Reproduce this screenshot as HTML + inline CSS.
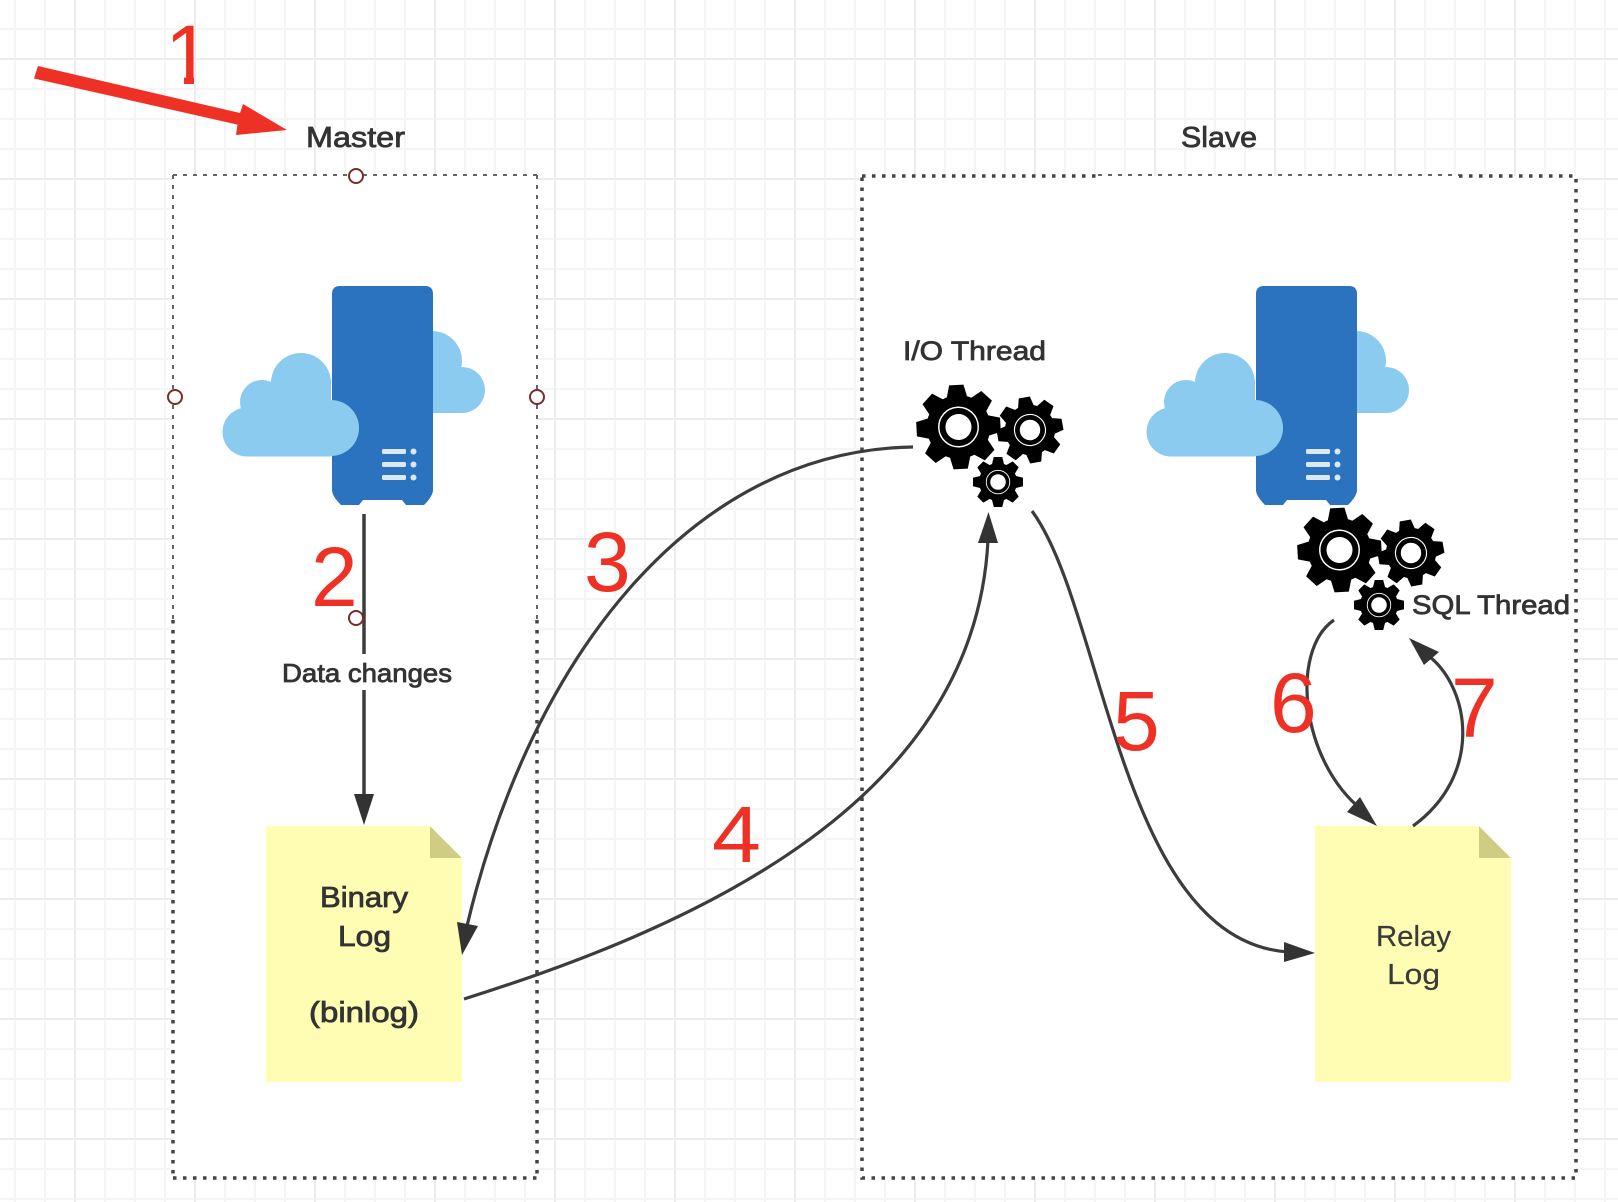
<!DOCTYPE html>
<html>
<head>
<meta charset="utf-8">
<style>
html,body{margin:0;padding:0;background:#fff;}
body{width:1618px;height:1202px;overflow:hidden;position:relative;
background-image:
linear-gradient(#ececec 2px,transparent 2px),
linear-gradient(90deg,#ececec 2px,transparent 2px),
linear-gradient(#f5f5f5 2px,transparent 2px),
linear-gradient(90deg,#f5f5f5 2px,transparent 2px);
background-size:120px 120px,120px 120px,30px 30px,30px 30px;
background-position:0 58px,74px 0,0 28px,14px 0;}
svg{position:absolute;left:0;top:0;}
text{font-family:"Liberation Sans",sans-serif;}
.lb{fill:#333;stroke:#333;stroke-width:.8px;}
.rl{fill:#3a3a3a;stroke:#3a3a3a;stroke-width:.2px;}
.n{fill:#ee3124;font-size:84px;}
.c{fill:none;stroke:#3c3c3c;stroke-width:3.2;}
.hd{fill:#333;}
.thin{fill:none;stroke:#666;stroke-width:2;stroke-dasharray:4 6;}
.thick{fill:none;stroke:#444;stroke-width:3.5;stroke-dasharray:3.5 6.5;}
.h{fill:#fff;stroke:#7a2b2b;stroke-width:2;}
</style>
</head>
<body>
<svg width="1618" height="1202" viewBox="0 0 1618 1202" xmlns="http://www.w3.org/2000/svg">
<defs>
<clipPath id="one">
<rect x="150" y="15" width="60" height="61"/>
<rect x="184" y="70" width="10" height="15"/>
</clipPath>
<g id="gear">
<circle r="0.76" fill="#000"/>
<g fill="#000">
<polygon points="-0.17,-1 0.17,-1 0.25,-0.68 -0.25,-0.68"/>
<polygon points="-0.17,-1 0.17,-1 0.25,-0.68 -0.25,-0.68" transform="rotate(45)"/>
<polygon points="-0.17,-1 0.17,-1 0.25,-0.68 -0.25,-0.68" transform="rotate(90)"/>
<polygon points="-0.17,-1 0.17,-1 0.25,-0.68 -0.25,-0.68" transform="rotate(135)"/>
<polygon points="-0.17,-1 0.17,-1 0.25,-0.68 -0.25,-0.68" transform="rotate(180)"/>
<polygon points="-0.17,-1 0.17,-1 0.25,-0.68 -0.25,-0.68" transform="rotate(225)"/>
<polygon points="-0.17,-1 0.17,-1 0.25,-0.68 -0.25,-0.68" transform="rotate(270)"/>
<polygon points="-0.17,-1 0.17,-1 0.25,-0.68 -0.25,-0.68" transform="rotate(315)"/>
</g>
<circle r="0.47" fill="none" stroke="#fff" stroke-width="0.035"/>
<circle r="0.31" fill="#fff"/>
</g>
<g id="gears">
<use href="#gear" transform="translate(958.5 427) rotate(-3) scale(42)"/>
<use href="#gear" transform="translate(1030 430) rotate(-10) scale(33)"/>
<use href="#gear" transform="translate(998 482) scale(25)"/>
</g>
<g id="server">
<g fill="#8bcbef">
<circle cx="432" cy="361" r="30"/>
<circle cx="462" cy="390" r="23"/>
<rect x="425" y="385" width="38" height="28"/>
</g>
<path d="M340 286H425Q433 286 433 294V490Q433 496 424 505H406L402 500H363L359 505H341Q332 496 332 490V294Q332 286 340 286Z" fill="#2b72bf"/>
<g fill="#8bcbef">
<circle cx="301" cy="383" r="30"/>
<circle cx="262" cy="402" r="22"/>
<circle cx="247" cy="432" r="24.5"/>
<circle cx="331" cy="428" r="28"/>
<rect x="247" y="400" width="84" height="56.5"/>
<rect x="271" y="380" width="60" height="30"/>
</g>
<g fill="#dce9f5">
<rect x="382" y="449" width="24" height="5" rx="1.5"/>
<rect x="382" y="462" width="24" height="5" rx="1.5"/>
<rect x="382" y="475" width="24" height="5" rx="1.5"/>
<circle cx="413.5" cy="451.5" r="3"/>
<circle cx="413.5" cy="464.5" r="3"/>
<circle cx="413.5" cy="477.5" r="3"/>
</g>
</g>
</defs>

<rect x="173" y="175" width="364" height="1003" fill="#fff"/>
<rect x="862" y="176" width="714" height="1002" fill="#fff"/>

<path class="thin" d="M173 175H537"/>
<path class="thin" d="M173 175V620"/>
<path class="thin" d="M537 175V620"/>
<path class="thick" d="M173 620V1178"/>
<path class="thick" d="M537 620V1178"/>
<path class="thick" d="M173 1178H537"/>

<path class="thick" d="M862 176H1098"/>
<path class="thin" d="M1098 175H1459"/>
<path class="thick" d="M1459 176H1576V1178H862V176"/>

<use href="#server"/>
<use href="#server" x="924"/>
<use href="#gears"/>
<use href="#gears" x="381" y="123"/>

<rect x="266" y="826" width="196" height="256" fill="#fffcb4"/>
<polygon points="430,826 462,858 430,858" fill="#cfcc85"/>
<polygon points="430,826 462,826 462,858" fill="#fff"/>
<rect x="1315" y="826" width="196" height="256" fill="#fffcb4"/>
<polygon points="1479,826 1511,858 1479,858" fill="#cfcc85"/>
<polygon points="1479,826 1511,826 1511,858" fill="#fff"/>

<path class="c" style="stroke-width:3.5" d="M364 514V654M364 690V796"/>
<polygon class="hd" points="354,794 374,794 364,825"/>

<path class="c" d="M913 447C690 450 530 660 467 926"/>
<polygon class="hd" points="462,955 457,922 478,926"/>

<path class="c" d="M464 999C700 925 975 800 988 540"/>
<polygon class="hd" points="988.5,512 978,543 998,543"/>

<path class="c" d="M1032 511C1105 610 1120 940 1288 952"/>
<polygon class="hd" points="1315,953 1284,942 1284,962"/>

<path class="c" d="M1334 620C1290 650 1300 760 1362 810"/>
<polygon class="hd" points="1377,826 1360,797 1347,812"/>

<path class="c" d="M1413 826C1483 775 1470 690 1430 657"/>
<polygon class="hd" points="1409,638 1439,652 1424,665"/>

<polygon points="38,66 240,113 243,104 287,130 236,135 237.5,124.6 34,78.5" fill="#ee3124"/>

<circle class="h" cx="356" cy="176" r="7"/>
<circle class="h" cx="175" cy="397" r="7"/>
<circle class="h" cx="537" cy="397" r="7"/>
<circle class="h" cx="356" cy="618" r="7"/>

<text class="lb" x="306" y="147" font-size="29" textLength="99" lengthAdjust="spacingAndGlyphs">Master</text>
<text class="lb" x="1181" y="147" font-size="29" textLength="76" lengthAdjust="spacingAndGlyphs">Slave</text>
<text class="lb" x="903" y="360" font-size="27" textLength="143" lengthAdjust="spacingAndGlyphs">I/O Thread</text>
<text class="lb" x="1412" y="614" font-size="27" textLength="158" lengthAdjust="spacingAndGlyphs">SQL Thread</text>
<text class="lb" x="282" y="682" font-size="26" textLength="170" lengthAdjust="spacingAndGlyphs">Data changes</text>
<text class="lb" x="320" y="907" font-size="29" textLength="88" lengthAdjust="spacingAndGlyphs">Binary</text>
<text class="lb" x="338" y="946" font-size="29" textLength="53" lengthAdjust="spacingAndGlyphs">Log</text>
<text class="lb" x="309" y="1022" font-size="29" textLength="110" lengthAdjust="spacingAndGlyphs">(binlog)</text>
<text class="rl" x="1376" y="946" font-size="29" textLength="75" lengthAdjust="spacingAndGlyphs">Relay</text>
<text class="rl" x="1387" y="984" font-size="29" textLength="53" lengthAdjust="spacingAndGlyphs">Log</text>

<text class="n" x="165" y="84" clip-path="url(#one)">1</text>
<text class="n" x="311" y="606">2</text>
<text class="n" x="584" y="591">3</text>
<text class="n" x="712" y="862" style="font-size:80px" textLength="49" lengthAdjust="spacingAndGlyphs">4</text>
<text class="n" x="1113" y="750">5</text>
<text class="n" x="1270" y="732">6</text>
<text class="n" x="1451" y="737">7</text>
</svg>
</body>
</html>
